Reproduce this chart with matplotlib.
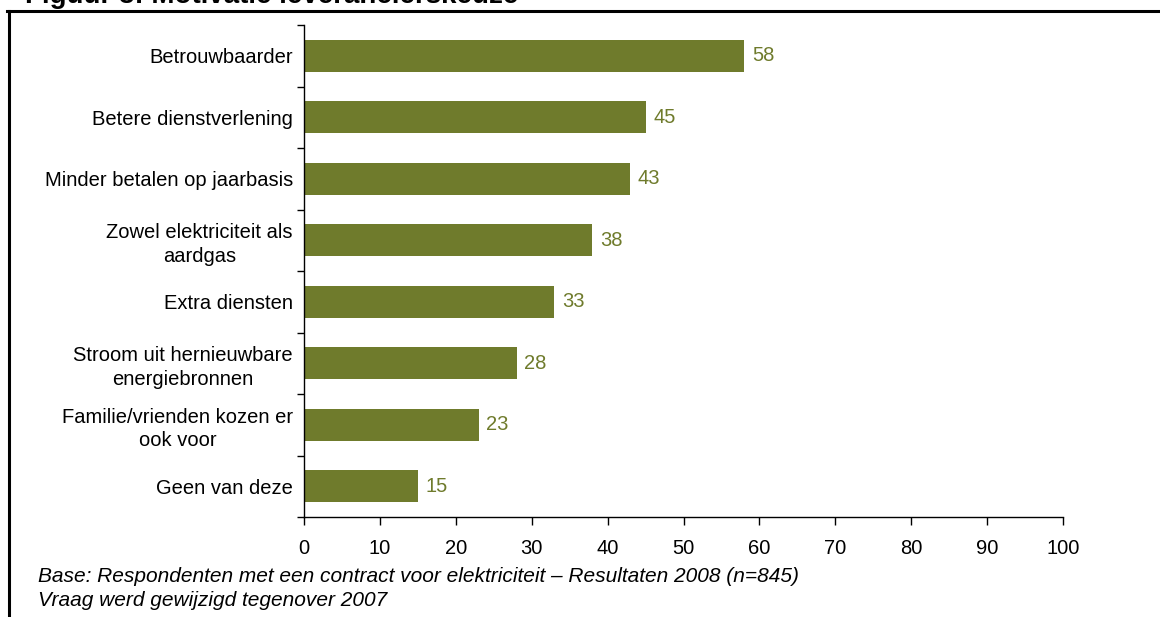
import matplotlib
matplotlib.use("Agg")
import matplotlib.pyplot as plt
from matplotlib.lines import Line2D

categories = [
    "Betrouwbaarder",
    "Betere dienstverlening",
    "Minder betalen op jaarbasis",
    "Zowel elektriciteit als\naardgas",
    "Extra diensten",
    "Stroom uit hernieuwbare\nenergiebronnen",
    "Familie/vrienden kozen er\nook voor",
    "Geen van deze",
]
values = [58, 45, 43, 38, 33, 28, 23, 15]
x_ticks = [0, 10, 20, 30, 40, 50, 60, 70, 80, 90, 100]

bar_color = "#6F7B2C"
label_color = "#6F7B2C"
font_size = 14.5

plt.rcParams["font.family"] = ["Liberation Sans", "DejaVu Sans"]

W, H = 1160, 617
fig = plt.figure(figsize=(W / 100, H / 100), dpi=100)
ax = fig.add_axes([304 / W, 1 - 517 / H, (1063 - 304) / W, (517 - 25) / H])

n = len(categories)
ypos = list(range(n))
ax.barh(ypos, values, height=0.52, color=bar_color, zorder=2)
for y, v in zip(ypos, values):
    ax.text(v + 1.0, y, f"{v}", va="center", ha="left", fontsize=font_size, color=label_color)

ax.set_xlim(0, 100)
ax.set_ylim(n - 0.5, -0.5)
ax.set_xticks(x_ticks)
ax.set_xticklabels([str(t) for t in x_ticks], fontsize=font_size)

# category names centred on the bars, tick marks on the category boundaries
ax.set_yticks(ypos)
ax.set_yticklabels(categories, fontsize=font_size, ha="right",
                   multialignment="center", linespacing=1.3)
ax.tick_params(axis="y", which="major", length=0, pad=8)
ax.set_yticks([i - 0.5 for i in range(n + 1)], minor=True)
ax.tick_params(axis="y", which="minor", length=5, width=1, direction="out")
ax.tick_params(axis="x", length=6, width=1, direction="out", pad=10)

for side in ("top", "right"):
    ax.spines[side].set_visible(False)
for side in ("left", "bottom"):
    ax.spines[side].set_linewidth(1)

# frame around the figure area
fig.add_artist(Line2D([7 / W, 1.0], [1 - 11 / H, 1 - 11 / H], color="black", lw=2.2))
fig.add_artist(Line2D([8.5 / W, 8.5 / W], [0, 1 - 11 / H], color="black", lw=2.2))

fig.text(25 / W, 1 - 3 / H, "Figuur 3: Motivatie leverancierskeuze",
         fontsize=20, fontweight="bold", va="baseline", ha="left")

note_font = ["Liberation Sans Narrow", "Liberation Sans", "DejaVu Sans"]
fig.text(38 / W, 1 - 576 / H,
         "Base: Respondenten met een contract voor elektriciteit \u2013 Resultaten 2008 (n=845)",
         fontsize=15, style="italic", va="center", ha="left", family=note_font)
fig.text(38 / W, 1 - 601 / H, "Vraag werd gewijzigd tegenover 2007",
         fontsize=15, style="italic", va="center", ha="left", family=note_font)

fig.savefig("out.png", dpi=100)
